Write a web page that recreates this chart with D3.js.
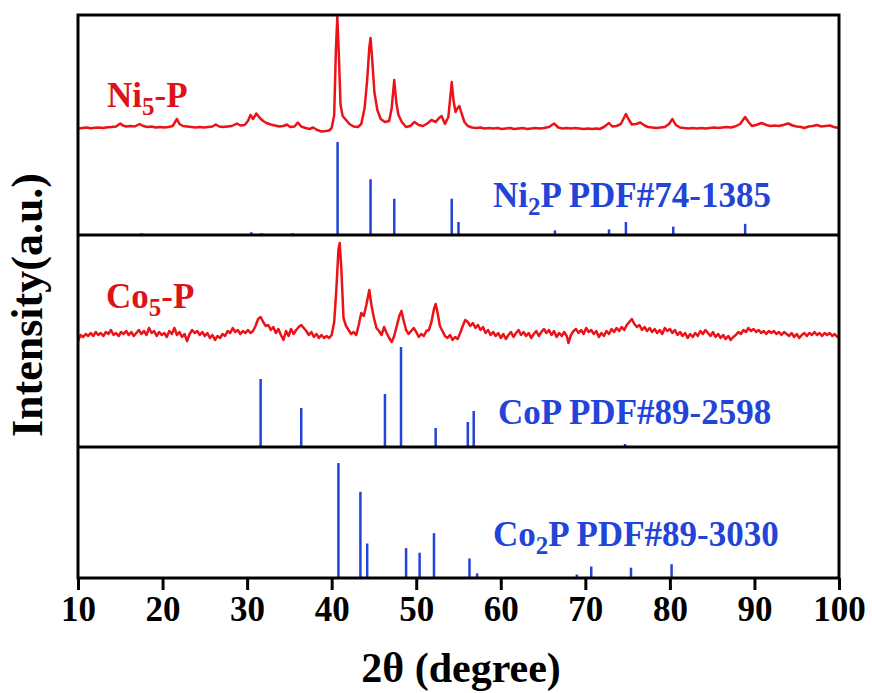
<!DOCTYPE html>
<html>

<head>
  <title>XRD patterns</title>
  <script src="https://cdn.jsdelivr.net/npm/d3@7"></script>
</head>

<body>
  <main id="container"></main>

  <script type="module">
    // sample curves: [2theta, counts]
    const ni5P = [
      [10.0, 190], [10.5, 200], [11.0, 210], [11.5, 195], [12.0, 205], [12.5, 210], [13.0, 200], [13.5, 215],
      [14.0, 220], [14.5, 230], [15.0, 290], [15.3, 250], [15.7, 230], [16.2, 240], [16.7, 230], [17.3, 280],
      [17.7, 240], [18.2, 220], [18.7, 230], [19.2, 210], [19.7, 220], [20.2, 210], [20.7, 220], [21.2, 240],
      [21.7, 380], [22.0, 280], [22.4, 240], [22.9, 230], [23.4, 220], [23.9, 210], [24.4, 220], [24.9, 210],
      [25.4, 220], [25.9, 230], [26.3, 270], [26.7, 230], [27.2, 220], [27.7, 230], [28.2, 240], [28.8, 290],
      [29.2, 250], [29.7, 260], [30.1, 340], [30.4, 460], [30.7, 380], [31.1, 490], [31.5, 400], [31.9, 340],
      [32.3, 300], [32.8, 270], [33.3, 250], [33.8, 230], [34.3, 240], [34.7, 270], [35.1, 220], [35.6, 230],
      [36.0, 310], [36.4, 230], [36.9, 200], [37.4, 180], [37.8, 210], [38.3, 160], [38.8, 130], [39.3, 140],
      [39.7, 150], [40.0, 200], [40.3, 460], [40.5, 1760], [40.67, 2420], [40.85, 1660], [41.05, 660], [41.3, 440],
      [41.7, 360], [42.1, 280], [42.6, 230], [43.1, 220], [43.5, 280], [43.9, 600], [44.2, 1160], [44.45, 1800],
      [44.6, 2000], [44.8, 1560], [45.05, 920], [45.4, 560], [45.8, 380], [46.3, 320], [46.8, 340], [47.1, 600],
      [47.4, 1160], [47.65, 700], [47.9, 460], [48.3, 320], [48.8, 220], [49.3, 240], [49.8, 320], [50.3, 260],
      [50.8, 240], [51.3, 290], [51.8, 360], [52.3, 320], [52.7, 400], [53.0, 440], [53.4, 280], [53.8, 420],
      [54.05, 860], [54.2, 1120], [54.4, 760], [54.65, 520], [54.9, 600], [55.1, 640], [55.35, 500], [55.7, 320],
      [56.1, 240], [56.6, 210], [57.1, 200], [57.6, 210], [58.1, 190], [58.6, 200], [59.1, 190], [59.6, 200],
      [60.1, 180], [60.6, 190], [61.1, 200], [61.6, 180], [62.1, 190], [62.6, 200], [63.1, 180], [63.6, 190],
      [64.1, 200], [64.6, 190], [65.1, 200], [65.7, 220], [66.3, 290], [66.8, 210], [67.3, 190], [67.8, 200],
      [68.3, 190], [68.8, 200], [69.3, 190], [69.8, 180], [70.3, 190], [70.8, 180], [71.3, 190], [71.7, 180],
      [72.2, 220], [72.8, 300], [73.2, 230], [73.7, 240], [74.2, 280], [74.8, 480], [75.1, 380], [75.5, 270],
      [76.0, 280], [76.5, 310], [77.0, 250], [77.4, 220], [77.9, 210], [78.4, 200], [78.9, 210], [79.4, 220],
      [79.9, 280], [80.3, 380], [80.7, 260], [81.2, 210], [81.7, 200], [82.2, 190], [82.7, 200], [83.2, 190],
      [83.7, 200], [84.2, 190], [84.7, 200], [85.2, 210], [85.7, 200], [86.2, 210], [86.7, 220], [87.2, 210],
      [87.7, 230], [88.3, 280], [88.9, 420], [89.3, 320], [89.7, 240], [90.2, 260], [90.85, 300], [91.4, 260],
      [91.9, 240], [92.4, 250], [92.9, 240], [93.4, 260], [94.0, 290], [94.5, 250], [95.0, 230], [95.5, 220],
      [95.9, 200], [96.4, 230], [96.9, 240], [97.4, 260], [97.9, 230], [98.4, 240], [98.9, 250], [99.4, 220],
      [100.0, 200]
    ];

    const co5P = [
      [10.0, 120], [10.3, 240], [10.6, 200], [10.9, 260], [11.2, 220], [11.5, 280], [11.8, 220], [12.1, 300],
      [12.4, 240], [12.7, 280], [13.0, 220], [13.3, 300], [13.6, 260], [13.9, 340], [14.2, 240], [14.5, 280],
      [14.8, 220], [15.1, 300], [15.4, 260], [15.7, 320], [16.0, 240], [16.3, 300], [16.6, 220], [16.9, 280],
      [17.2, 340], [17.5, 260], [17.8, 320], [18.1, 240], [18.4, 380], [18.7, 280], [19.0, 320], [19.3, 220],
      [19.6, 300], [19.9, 240], [20.2, 280], [20.5, 200], [20.8, 320], [21.1, 260], [21.4, 380], [21.7, 240],
      [22.0, 300], [22.3, 200], [22.6, 260], [22.9, 120], [23.2, 260], [23.5, 340], [23.8, 280], [24.1, 320],
      [24.4, 240], [24.7, 300], [25.0, 220], [25.3, 280], [25.6, 180], [25.9, 240], [26.2, 140], [26.5, 220],
      [26.8, 180], [27.1, 260], [27.4, 220], [27.7, 320], [28.0, 280], [28.3, 380], [28.6, 300], [28.9, 340],
      [29.2, 260], [29.5, 320], [29.8, 280], [30.1, 340], [30.4, 280], [30.7, 320], [31.0, 420], [31.3, 560],
      [31.6, 600], [31.9, 500], [32.2, 420], [32.5, 440], [32.8, 340], [33.1, 400], [33.4, 280], [33.7, 360],
      [34.0, 240], [34.3, 140], [34.6, 320], [34.9, 220], [35.2, 360], [35.5, 260], [35.8, 340], [36.1, 400],
      [36.4, 440], [36.7, 380], [37.0, 320], [37.3, 240], [37.6, 300], [37.9, 200], [38.2, 260], [38.5, 180],
      [38.8, 240], [39.1, 180], [39.4, 220], [39.7, 180], [40.0, 240], [40.3, 500], [40.55, 1140], [40.8, 1940],
      [40.95, 2080], [41.15, 1540], [41.4, 580], [41.7, 420], [42.0, 340], [42.3, 260], [42.6, 300], [42.9, 240],
      [43.2, 440], [43.5, 680], [43.8, 620], [44.1, 840], [44.45, 1140], [44.7, 840], [45.0, 580], [45.3, 380],
      [45.6, 320], [45.9, 240], [46.2, 400], [46.5, 280], [46.8, 180], [47.1, 100], [47.4, 220], [47.7, 420],
      [48.0, 620], [48.25, 720], [48.5, 540], [48.8, 340], [49.1, 260], [49.4, 320], [49.7, 380], [50.0, 300],
      [50.3, 200], [50.6, 260], [50.9, 220], [51.2, 320], [51.5, 340], [51.8, 500], [52.1, 760], [52.3, 860],
      [52.55, 660], [52.8, 420], [53.1, 320], [53.4, 220], [53.7, 180], [54.0, 240], [54.3, 140], [54.6, 200],
      [54.9, 160], [55.2, 280], [55.5, 420], [55.8, 540], [56.1, 500], [56.4, 420], [56.7, 480], [57.0, 380],
      [57.3, 440], [57.6, 340], [57.9, 400], [58.2, 280], [58.5, 340], [58.8, 240], [59.1, 300], [59.4, 220],
      [59.7, 280], [60.0, 180], [60.3, 260], [60.6, 160], [60.9, 240], [61.2, 300], [61.5, 200], [61.8, 280],
      [62.1, 340], [62.4, 240], [62.7, 300], [63.0, 220], [63.3, 280], [63.6, 180], [63.9, 260], [64.2, 320],
      [64.5, 220], [64.8, 300], [65.1, 360], [65.4, 280], [65.7, 340], [66.0, 240], [66.3, 320], [66.6, 200],
      [66.9, 280], [67.2, 220], [67.5, 300], [67.8, 220], [68.0, 80], [68.3, 240], [68.6, 320], [68.9, 360],
      [69.2, 280], [69.5, 340], [69.8, 260], [70.1, 380], [70.4, 300], [70.7, 340], [71.0, 260], [71.3, 320],
      [71.6, 200], [71.9, 280], [72.2, 220], [72.5, 320], [72.8, 260], [73.1, 360], [73.4, 300], [73.7, 380],
      [74.0, 320], [74.3, 400], [74.6, 340], [74.9, 440], [75.2, 500], [75.5, 560], [75.8, 460], [76.1, 400],
      [76.4, 440], [76.7, 340], [77.0, 400], [77.3, 320], [77.6, 380], [77.9, 300], [78.2, 360], [78.5, 280],
      [78.8, 340], [79.1, 260], [79.4, 380], [79.7, 320], [80.0, 360], [80.3, 280], [80.6, 340], [80.9, 240],
      [81.2, 300], [81.5, 220], [81.8, 280], [82.1, 180], [82.4, 260], [82.7, 200], [83.0, 280], [83.3, 220],
      [83.6, 320], [83.9, 260], [84.2, 340], [84.5, 280], [84.8, 220], [85.1, 300], [85.4, 200], [85.7, 260],
      [86.0, 180], [86.3, 240], [86.6, 160], [86.9, 220], [87.2, 140], [87.5, 200], [87.8, 240], [88.1, 300],
      [88.4, 260], [88.7, 340], [89.0, 300], [89.3, 380], [89.6, 320], [89.9, 360], [90.2, 300], [90.5, 340],
      [90.8, 280], [91.1, 320], [91.4, 260], [91.7, 320], [92.0, 280], [92.3, 320], [92.6, 260], [92.9, 300],
      [93.2, 240], [93.5, 300], [93.8, 260], [94.1, 220], [94.4, 280], [94.7, 200], [95.0, 260], [95.3, 180],
      [95.6, 240], [95.9, 280], [96.2, 220], [96.5, 280], [96.8, 240], [97.1, 300], [97.4, 240], [97.7, 280],
      [98.0, 220], [98.3, 280], [98.6, 240], [98.9, 280], [99.2, 220], [99.5, 260], [99.8, 200], [100.0, 220]
    ];

    // reference cards: [2theta, relative intensity]
    const ni2PCard = [
      [17.5, 2], [26.4, 1], [30.5, 3], [31.7, 2], [35.4, 2], [40.7, 100], [44.6, 60], [47.4, 39],
      [54.2, 39], [55.0, 14], [66.4, 5], [72.8, 6], [74.8, 14], [80.4, 9], [88.9, 12]
    ];
    const coPCard = [
      [31.6, 68], [36.4, 39], [46.3, 53], [48.2, 100], [52.3, 19], [56.1, 25], [56.8, 36], [74.7, 3]
    ];
    const co2PCard = [
      [40.8, 100], [43.4, 75], [44.2, 30], [48.8, 26], [50.4, 22], [52.1, 39], [56.3, 17], [57.2, 4],
      [69.0, 3], [70.7, 10], [75.4, 9], [80.2, 12]
    ];

    const xTicks = [10, 20, 30, 40, 50, 60, 70, 80, 90, 100];

    // layout
    const width = 872;
    const height = 693;
    const left = 78, right = 839;
    const p1Top = 15, p1Bot = 235, p2Bot = 447, p3Bot = 578;

    const red = "#ec1218";
    const blue = "#2344d8";
    const font = "'Liberation Serif', 'Times New Roman', serif";

    const svg = d3.select("#container")
      .append("svg")
      .attr("width", width)
      .attr("height", height);

    const x = d3.scaleLinear().domain([10, 100]).range([left, right]);

    // y scales, one for each trace
    const yNi5 = d3.scaleLinear().domain([-1940, 2460]).range([p1Bot, p1Top]);
    const yNi2P = d3.scaleLinear().domain([0, 236.6]).range([p1Bot, p1Top]);
    const yCo5 = d3.scaleLinear().domain([-2000, 2240]).range([p2Bot, p1Bot]);
    const yCoP = d3.scaleLinear().domain([0, 212]).range([p2Bot, p1Bot]);
    const yCo2P = d3.scaleLinear().domain([0, 114]).range([p3Bot, p2Bot]);

    const line = (ys) => d3.line().x(d => x(d[0])).y(d => ys(d[1]));

    function drawCurve(data, ys) {
      svg.append("path")
        .datum(data)
        .attr("d", line(ys))
        .attr("fill", "none")
        .attr("stroke", red)
        .attr("stroke-width", 2.5)
        .attr("stroke-linejoin", "round");
    }

    function drawSticks(data, ys) {
      svg.append("g")
        .selectAll("line")
        .data(data)
        .join("line")
        .attr("x1", d => x(d[0]))
        .attr("x2", d => x(d[0]))
        .attr("y1", ys(0))
        .attr("y2", d => ys(d[1]))
        .attr("stroke", blue)
        .attr("stroke-width", 2.5);
    }

    drawCurve(ni5P, yNi5);
    drawSticks(ni2PCard, yNi2P);
    drawCurve(co5P, yCo5);
    drawSticks(coPCard, yCoP);
    drawSticks(co2PCard, yCo2P);

    // frame and panel dividers
    svg.append("rect")
      .attr("x", left)
      .attr("y", p1Top)
      .attr("width", right - left)
      .attr("height", p3Bot - p1Top)
      .attr("fill", "none")
      .attr("stroke", "#000")
      .attr("stroke-width", 3);

    svg.selectAll(".divider")
      .data([p1Bot, p2Bot])
      .join("line")
      .attr("class", "divider")
      .attr("x1", left)
      .attr("x2", right)
      .attr("y1", d => d)
      .attr("y2", d => d)
      .attr("stroke", "#000")
      .attr("stroke-width", 3);

    // x axis
    const axisX = svg.append("g")
      .attr("transform", `translate(0, ${p3Bot})`)
      .call(d3.axisBottom(x).tickValues(xTicks).tickSize(12).tickPadding(6));
    axisX.select(".domain").remove();
    axisX.selectAll(".tick line").attr("stroke", "#000").attr("stroke-width", 3);
    axisX.selectAll(".tick text")
      .attr("fill", "#000")
      .style("font-family", font)
      .style("font-weight", "bold")
      .style("font-size", "35px");

    svg.append("text")
      .attr("x", 461)
      .attr("y", 682)
      .attr("text-anchor", "middle")
      .style("font-family", font)
      .style("font-weight", "bold")
      .style("font-size", "42px")
      .text("2θ (degree)");

    svg.append("text")
      .attr("transform", "translate(42, 305) rotate(-90)")
      .attr("text-anchor", "middle")
      .style("font-family", font)
      .style("font-weight", "bold")
      .style("font-size", "44px")
      .text("Intensity(a.u.)");

    // labels with subscripts
    function label(parts, px, py, color) {
      const t = svg.append("text")
        .attr("x", px)
        .attr("y", py)
        .attr("fill", color)
        .style("font-family", font)
        .style("font-weight", "bold")
        .style("font-size", "35px");
      parts.forEach(p => {
        const s = t.append("tspan").text(p.t);
        if (p.sub) s.attr("dy", 8).style("font-size", "25px");
        else if (p.back) s.attr("dy", -8);
      });
    }

    label([{ t: "Ni" }, { t: "5", sub: true }, { t: "-P", back: true }], 107, 107, "#dc1419");
    label([{ t: "Co" }, { t: "5", sub: true }, { t: "-P", back: true }], 106, 308, "#dc1419");
    label([{ t: "Ni" }, { t: "2", sub: true }, { t: "P PDF#74-1385", back: true }], 493, 207, blue);
    label([{ t: "CoP PDF#89-2598" }], 498, 424, blue);
    label([{ t: "Co" }, { t: "2", sub: true }, { t: "P PDF#89-3030", back: true }], 493, 546, blue);
  </script>

  <style>
    body {
      margin: 0;
      background: #fff;
    }
  </style>

</body>

</html>
